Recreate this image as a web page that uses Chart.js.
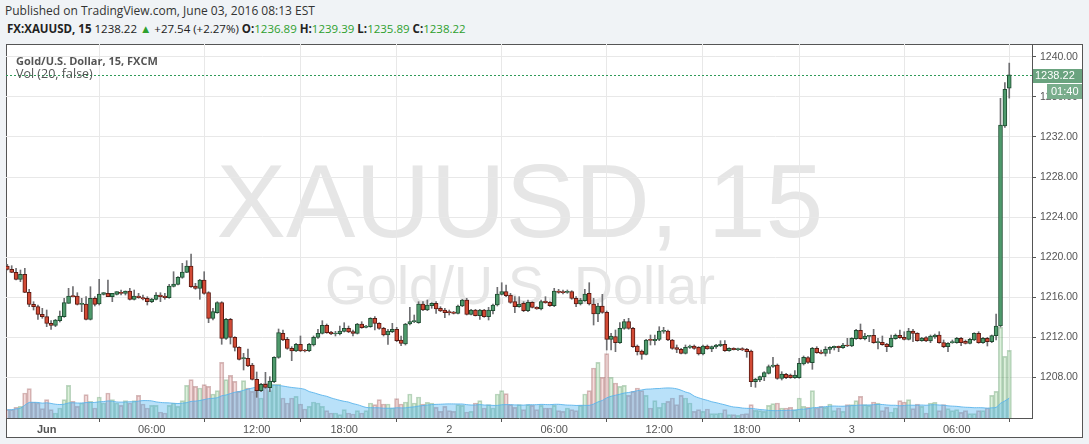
<!DOCTYPE html>
<html>
<head>
<meta charset="utf-8">
<script src="https://cdn.jsdelivr.net/npm/chart.js@4.4.0/dist/chart.umd.min.js"></script>
<style>
  body { margin: 0; width: 1089px; height: 444px; overflow: hidden; background: #f0f3f6; font-family: "Open Sans", "Liberation Sans", sans-serif; }
  #head1 { position: absolute; left: 5px; top: 2px; font-size: 12px; color: #333; white-space: nowrap; }
  #head2 { position: absolute; left: 7px; top: 21px; font-size: 11.5px; color: #222; white-space: nowrap; }
  #head2 b { font-weight: 700; }
  #head2 .g { color: #2ea02e; }
  #frame { position: absolute; left: 6px; top: 44px; width: 1077px; height: 394px; box-sizing: border-box; border: 1px solid #555; background: #fff; overflow: hidden; }
  .wm { position: absolute; left: 0; width: 1026px; text-align: center; color: #e6e6e6; font-family: "Liberation Sans", Arial, sans-serif; white-space: nowrap; }
  #wm1 { top: 104px; font-size: 104px; line-height: 104px; }
  #wm2 { top: 213px; font-size: 54px; line-height: 54px; }
  .leg { position: absolute; left: 16px; font-size: 11px; color: #555; white-space: nowrap; }
  #leg1 { top: 53px; font-weight: 700; }
  #leg2 { top: 65px; font-size: 12.5px; }
  canvas { position: absolute; left: 0; top: 0; }
</style>
</head>
<body>
<div id="head1">Published on TradingView.com, June 03, 2016 08:13 EST</div>
<div id="head2"><b>FX:XAUUSD, 15</b> 1238.22 <span class="g">&#9650;</span> +27.54 (+2.27%) <b>O:</b><span class="g">1236.89</span> <b>H:</b><span class="g">1239.39</span> <b>L:</b><span class="g">1235.89</span> <b>C:</b><span class="g">1238.22</span></div>
<div id="frame">
  <div class="wm" id="wm1">XAUUSD, 15</div>
  <div class="wm" id="wm2">Gold/U.S. Dollar</div>
</div>
<canvas id="chart" width="1089" height="444"></canvas>
<div class="leg" id="leg1">Gold/U.S. Dollar, 15, FXCM</div>
<div class="leg" id="leg2">Vol (20, false)</div>

<script>
// 15 minute bars, May 31 21:45 .. Jun 3
const open = [1219.10,1218.77,1218.47,1217.77,1218.27,1216.47,1215.27,1215.03,1214.27,1214.03,
  1213.37,1213.17,1213.63,1214.03,1215.37,1216.10,1216.10,1215.27,1215.30,1213.77,
  1215.87,1215.30,1216.27,1216.37,1216.03,1216.27,1216.47,1216.37,1216.60,1215.77,
  1216.10,1215.93,1215.87,1215.53,1215.77,1216.20,1216.10,1215.93,1217.07,1217.27,
  1217.97,1218.47,1219.10,1217.10,1216.87,1217.70,1216.43,1213.87,1214.43,1215.43,
  1211.87,1213.77,1211.97,1210.97,1209.83,1209.87,1209.20,1207.77,1206.63,1207.27,
  1206.93,1207.53,1209.97,1212.37,1211.77,1210.87,1210.60,1211.27,1210.63,1210.63,
  1211.20,1211.97,1212.37,1213.17,1212.50,1212.30,1212.33,1212.57,1212.87,1212.53,
  1212.37,1213.30,1212.97,1213.03,1213.87,1213.37,1212.87,1212.20,1212.53,1212.77,
  1211.70,1211.30,1213.30,1213.53,1213.43,1215.30,1214.70,1215.13,1215.37,1214.87,
  1214.70,1214.50,1214.50,1214.37,1215.10,1215.70,1214.27,1214.70,1214.13,1214.70,
  1214.03,1214.63,1215.20,1216.27,1216.53,1216.20,1215.53,1215.03,1215.37,1214.63,
  1215.47,1214.97,1214.80,1215.60,1215.47,1215.13,1216.60,1216.53,1216.47,1216.53,
  1215.87,1215.30,1215.63,1216.37,1215.30,1214.30,1215.10,1214.47,1211.77,1212.03,
  1211.43,1212.87,1213.53,1212.87,1211.10,1210.60,1210.27,1211.70,1211.63,1211.77,
  1212.57,1212.60,1211.70,1210.93,1210.77,1210.37,1210.97,1211.10,1210.97,1210.30,
  1211.10,1210.80,1211.00,1211.13,1211.27,1210.63,1210.87,1210.73,1210.83,1210.77,
  1210.60,1207.53,1207.70,1208.00,1208.37,1209.07,1209.20,1207.87,1208.27,1208.20,
  1207.93,1207.93,1209.30,1209.93,1209.43,1210.87,1210.50,1210.37,1210.77,1210.93,
  1211.07,1210.93,1211.17,1211.10,1211.83,1212.67,1211.83,1212.07,1212.17,1211.43,
  1211.47,1211.30,1211.03,1211.83,1212.17,1211.97,1211.77,1212.60,1212.37,1211.63,
  1211.93,1211.60,1212.00,1212.20,1211.43,1211.03,1211.43,1211.43,1211.87,1211.57,
  1211.37,1211.70,1212.37,1211.43,1211.87,1211.53,1212.13,1213.10,1233.10,1236.89];

const high = [1219.27,1219.13,1218.87,1218.70,1218.87,1216.77,1215.53,1215.20,1214.87,1214.70,
  1213.63,1213.77,1214.60,1215.87,1216.87,1217.03,1216.43,1215.87,1216.03,1217.03,
  1216.03,1217.77,1216.43,1217.70,1216.37,1216.53,1216.70,1216.60,1216.87,1216.70,
  1216.37,1216.20,1216.03,1215.87,1216.43,1216.43,1216.37,1217.27,1218.53,1218.03,
  1219.37,1219.63,1220.30,1217.37,1217.77,1218.53,1216.53,1214.87,1215.53,1215.53,
  1213.87,1213.87,1212.03,1211.03,1210.37,1210.80,1209.37,1208.50,1207.37,1208.47,
  1208.03,1210.03,1212.80,1212.70,1211.97,1211.03,1211.37,1212.10,1210.77,1211.37,
  1212.10,1212.77,1213.63,1213.30,1212.57,1212.57,1213.10,1213.43,1213.10,1212.70,
  1213.37,1213.53,1213.17,1213.93,1214.03,1213.43,1212.97,1212.77,1213.37,1212.97,
  1212.10,1213.37,1214.97,1214.20,1215.53,1215.53,1215.70,1215.43,1215.53,1215.03,
  1214.87,1214.70,1214.57,1215.20,1215.77,1215.87,1214.77,1214.77,1214.77,1214.77,
  1214.97,1215.30,1216.97,1217.43,1217.20,1216.37,1216.03,1216.03,1215.53,1215.70,
  1215.53,1215.03,1215.70,1216.03,1215.53,1216.87,1216.77,1216.70,1216.70,1216.63,
  1216.03,1215.87,1216.77,1217.43,1215.87,1215.37,1216.27,1214.60,1212.37,1212.70,
  1213.43,1213.77,1213.87,1212.97,1211.20,1210.70,1211.77,1212.20,1212.20,1213.03,
  1212.97,1212.70,1211.77,1211.20,1210.87,1211.20,1211.20,1211.20,1211.03,1211.20,
  1211.20,1211.10,1211.27,1211.63,1211.63,1210.93,1210.93,1210.90,1210.93,1210.87,
  1210.70,1207.87,1208.10,1208.53,1209.20,1209.97,1209.30,1208.53,1208.37,1208.30,
  1208.63,1209.87,1210.10,1210.03,1210.97,1211.03,1210.70,1211.03,1211.03,1211.10,
  1211.10,1211.37,1211.87,1211.93,1212.77,1213.30,1212.37,1212.17,1212.77,1211.87,
  1212.10,1211.37,1212.20,1212.30,1212.70,1212.53,1212.87,1212.77,1212.43,1211.97,
  1212.03,1212.20,1212.30,1212.53,1211.70,1211.43,1211.70,1211.97,1211.97,1211.70,
  1211.87,1212.43,1212.53,1211.97,1211.97,1212.20,1214.30,1235.87,1237.43,1239.39];

const low = [1218.70,1218.43,1217.70,1217.53,1216.43,1215.03,1214.70,1213.77,1213.87,1213.03,
  1212.77,1213.03,1213.50,1213.97,1215.37,1216.00,1215.20,1214.53,1213.70,1213.70,
  1215.10,1215.20,1216.20,1216.03,1215.53,1216.20,1216.20,1216.20,1215.70,1215.70,
  1215.87,1215.70,1215.20,1215.43,1215.70,1215.53,1215.77,1215.87,1217.00,1217.20,
  1217.87,1218.43,1216.97,1216.77,1215.77,1216.27,1213.43,1213.70,1214.37,1211.27,
  1211.77,1211.30,1210.60,1209.70,1208.70,1209.03,1207.70,1205.97,1206.53,1206.87,
  1206.53,1207.43,1209.87,1211.63,1210.77,1209.63,1210.53,1210.53,1210.50,1210.53,
  1211.10,1211.87,1212.30,1212.37,1212.23,1212.10,1212.20,1212.50,1212.43,1212.10,
  1212.30,1212.87,1212.90,1212.97,1212.70,1212.77,1212.10,1211.27,1212.43,1211.53,
  1211.13,1211.20,1213.20,1213.43,1213.37,1214.63,1214.63,1214.87,1214.37,1214.53,
  1213.93,1214.20,1214.30,1214.30,1215.03,1214.20,1214.20,1214.10,1213.77,1213.97,
  1213.70,1214.30,1215.10,1216.20,1216.03,1215.37,1214.43,1214.97,1214.53,1214.53,
  1214.90,1214.77,1214.70,1215.37,1215.07,1215.03,1216.37,1216.30,1216.37,1215.77,
  1215.03,1215.20,1215.57,1215.20,1213.20,1213.53,1214.37,1210.70,1210.70,1210.53,
  1211.37,1212.77,1212.77,1210.97,1210.20,1209.77,1210.20,1211.20,1211.20,1211.63,
  1212.37,1211.63,1210.77,1210.43,1210.30,1210.30,1210.87,1210.77,1210.20,1210.20,
  1210.77,1210.53,1210.87,1211.03,1210.57,1210.57,1210.70,1210.63,1210.63,1209.97,
  1207.03,1206.97,1207.53,1207.63,1208.30,1208.97,1207.77,1207.70,1207.83,1207.87,
  1207.87,1207.87,1209.20,1209.37,1208.77,1210.37,1210.30,1210.10,1210.37,1210.70,
  1210.53,1210.87,1211.03,1211.03,1211.77,1211.77,1211.70,1211.53,1211.37,1210.80,
  1211.17,1210.53,1210.97,1211.77,1211.87,1211.70,1211.70,1211.53,1211.57,1211.57,
  1211.53,1211.43,1211.87,1211.37,1210.93,1210.53,1211.37,1211.37,1211.13,1211.30,
  1211.30,1211.63,1211.37,1211.37,1211.10,1211.43,1211.70,1213.00,1232.97,1235.89];

const close = [1218.77,1218.47,1217.77,1218.27,1216.47,1215.27,1215.03,1214.27,1214.03,1213.37,
  1213.17,1213.70,1214.10,1215.43,1216.10,1216.03,1215.27,1215.33,1213.77,1215.87,
  1215.27,1216.30,1216.43,1216.03,1216.37,1216.53,1216.37,1216.60,1215.77,1216.10,
  1215.93,1215.80,1215.53,1215.80,1216.20,1216.03,1215.93,1217.10,1217.30,1217.97,
  1218.50,1219.10,1217.03,1216.87,1217.70,1216.37,1213.87,1214.53,1215.43,1211.87,
  1213.77,1211.97,1210.97,1209.77,1209.90,1209.10,1207.77,1206.63,1207.27,1206.97,
  1207.60,1209.97,1212.43,1211.70,1210.87,1210.60,1211.27,1210.60,1210.60,1211.27,
  1211.97,1212.37,1213.17,1212.43,1212.30,1212.33,1212.60,1212.87,1212.50,1212.37,
  1213.30,1212.93,1213.10,1213.87,1213.37,1212.87,1212.20,1212.60,1212.77,1211.63,
  1211.37,1213.30,1213.53,1213.57,1215.30,1214.70,1215.20,1215.37,1214.80,1214.60,
  1214.43,1214.43,1214.37,1215.10,1215.70,1214.27,1214.70,1214.13,1214.70,1214.03,
  1214.70,1215.20,1216.30,1216.53,1216.13,1215.47,1215.03,1215.30,1214.63,1215.47,
  1214.97,1214.80,1215.53,1215.43,1215.13,1216.60,1216.47,1216.43,1216.53,1215.87,
  1215.30,1215.70,1216.30,1215.30,1214.30,1215.10,1214.47,1211.77,1212.10,1211.43,
  1212.87,1213.53,1212.87,1211.03,1210.53,1210.27,1211.70,1211.67,1211.77,1212.60,
  1212.67,1211.70,1210.87,1210.77,1210.37,1210.97,1211.10,1210.87,1210.30,1211.10,
  1210.80,1211.03,1211.20,1211.27,1210.63,1210.87,1210.73,1210.77,1210.70,1210.53,
  1207.53,1207.77,1208.03,1208.43,1209.03,1209.20,1207.87,1208.30,1207.93,1207.93,
  1208.20,1209.37,1209.97,1209.47,1210.87,1210.43,1210.37,1210.77,1210.97,1211.07,
  1210.93,1211.20,1211.10,1211.87,1212.67,1211.83,1212.10,1212.17,1211.43,1211.47,
  1211.23,1211.03,1211.87,1212.17,1211.93,1211.77,1212.60,1212.37,1211.63,1211.90,
  1211.60,1212.10,1212.20,1211.43,1211.03,1211.37,1211.53,1211.87,1211.43,1211.37,
  1211.77,1212.37,1211.43,1211.87,1211.53,1212.13,1213.10,1233.20,1236.77,1238.22];

const volume = [83,83,107,117,250,293,160,150,93,183,
  83,50,100,183,327,167,117,150,233,167,
  100,210,150,250,183,150,127,173,150,173,
  227,140,100,127,127,60,50,127,150,117,
  173,327,383,317,300,333,317,240,273,557,
  383,427,367,267,373,300,267,283,200,350,
  273,340,340,200,150,200,217,140,90,117,
  160,150,117,73,50,50,33,83,50,40,
  73,50,73,150,133,183,140,140,100,193,
  140,160,240,150,210,140,157,150,107,67,
  117,73,67,133,127,60,67,150,173,100,
  133,100,240,273,243,133,107,133,83,133,
  127,83,127,100,100,127,73,67,100,83,
  73,127,240,273,500,557,407,643,407,350,
  317,327,227,267,300,273,227,100,173,107,
  150,167,200,133,227,200,150,67,83,67,
  90,43,43,50,83,33,33,27,40,43,
  133,77,73,67,127,143,150,100,100,107,
  83,200,117,107,273,100,117,107,140,73,
  100,67,133,133,173,217,133,127,160,150,
  73,107,60,100,173,160,183,93,140,117,
  50,150,157,73,133,93,73,83,57,73,
  43,43,73,73,100,227,267,907,617,677];

const tickIdx = [9, 33, 57, 77, 101, 125, 149, 169, 193, 217];
const tickLabels = ['Jun', '06:00', '12:00', '18:00', '2', '06:00', '12:00', '18:00', '3', '06:00'];
const priceTicks = [1208, 1212, 1216, 1220, 1224, 1228, 1232, 1236, 1240];

const idx = open.map((o, i) => i);
const up = idx.map(i => close[i] >= open[i]);

const wickData = idx.map(i => ({ x: i, y: [low[i], high[i]] }));
const bodyData = idx.map(i => ({ x: i, y: [Math.min(open[i], close[i]), Math.max(open[i], close[i])] }));
const volData = idx.map(i => ({ x: i, y: volume[i] }));
// Vol (20): simple moving average of volume
const volMA = idx.map(i => {
  const w = volume.slice(Math.max(0, i - 19), i + 1);
  return { x: i, y: w.reduce((a, b) => a + b, 0) / w.length };
});

const lastPrice = {
  id: 'lastPrice',
  beforeDatasetsDraw(chart) {
    const { ctx, chartArea: a, scales: { y } } = chart;
    const py = Math.round(y.getPixelForValue(close[close.length - 1])) + 0.5;
    ctx.save();
    ctx.strokeStyle = '#2f9a58';
    ctx.lineWidth = 1;
    ctx.setLineDash([2, 2]);
    ctx.beginPath();
    ctx.moveTo(a.left, py);
    ctx.lineTo(a.right, py);
    ctx.stroke();
    ctx.restore();
  },
  afterDraw(chart) {
    const { ctx, chartArea: a, scales: { y } } = chart;
    const last = close[close.length - 1];
    const py = Math.round(y.getPixelForValue(last));
    ctx.save();
    ctx.fillStyle = '#6aa37f';
    ctx.fillRect(a.right + 1, py - 6, 49, 14);
    ctx.fillStyle = '#79ad8c';
    ctx.fillRect(a.right + 15, py + 9, 35, 15);
    ctx.fillStyle = '#fff';
    ctx.font = '11px "Liberation Sans"';
    ctx.textBaseline = 'middle';
    ctx.fillText(last.toFixed(2), a.right + 3, py + 1);
    ctx.fillText('01:40', a.right + 19, py + 17);
    ctx.restore();
  }
};

const ctx = document.getElementById('chart').getContext('2d');

new Chart(ctx, {
  type: 'bar',
  data: {
    datasets: [
      {
        label: 'body',
        data: bodyData,
        backgroundColor: up.map(u => u ? '#4e9a6c' : '#d24a35'),
        borderColor: up.map(u => u ? '#1f4d32' : '#5b1a13'),
        borderWidth: 1,
        borderSkipped: false,
        barThickness: 4,
        minBarLength: 1,
        grouped: false,
        order: 0
      },
      {
        label: 'wick',
        data: wickData,
        backgroundColor: '#6f6f72',
        barThickness: 1,
        minBarLength: 1,
        grouped: false,
        order: 1
      },
      {
        type: 'line',
        label: 'Vol MA',
        data: volMA,
        yAxisID: 'vol',
        borderColor: 'rgba(90,180,235,0.9)',
        borderWidth: 1,
        backgroundColor: 'rgba(70,175,240,0.38)',
        fill: 'origin',
        pointRadius: 0,
        tension: 0.3,
        order: 2
      },
      {
        label: 'Volume',
        data: volData,
        yAxisID: 'vol',
        backgroundColor: up.map(u => u ? 'rgba(120,195,120,0.25)' : 'rgba(210,120,120,0.25)'),
        borderColor: up.map(u => u ? 'rgba(90,150,100,0.4)' : 'rgba(150,80,80,0.4)'),
        borderWidth: 1,
        borderSkipped: 'bottom',
        barThickness: 4.4,
        grouped: false,
        order: 3
      }
    ]
  },
  options: {
    responsive: false,
    animation: false,
    devicePixelRatio: 1,
    layout: { padding: { left: 6, top: 44, right: 7, bottom: 7 } },
    plugins: { legend: { display: false }, tooltip: { enabled: false } },
    scales: {
      x: {
        type: 'linear',
        min: -0.3,
        max: 234.2,
        offset: false,
        afterBuildTicks: s => { s.ticks = tickIdx.map(v => ({ value: v })); },
        afterFit: s => { s.height = 19; },
        grid: { color: '#e8e8e8', tickLength: 4, tickColor: '#555' },
        border: { color: '#555' },
        ticks: {
          callback: v => tickLabels[tickIdx.indexOf(v)],
          autoSkip: false,
          maxRotation: 0,
          padding: 1,
          color: '#555',
          font: c => ({ family: 'Liberation Sans', size: 11, weight: c.tick && c.tick.label === 'Jun' ? 'bold' : 'normal' })
        }
      },
      y: {
        position: 'right',
        min: 1203.9,
        max: 1241.3,
        afterBuildTicks: s => { s.ticks = priceTicks.map(v => ({ value: v })); },
        afterFit: s => { s.width = 50; },
        grid: { color: '#e8e8e8', tickLength: 4, tickColor: '#555' },
        border: { color: '#555' },
        ticks: {
          callback: v => v.toFixed(2),
          padding: 4,
          color: '#555',
          font: { family: 'Liberation Sans', size: 10.5 }
        }
      },
      vol: {
        display: false,
        min: 0,
        max: 3740
      }
    }
  },
  plugins: [lastPrice]
});
</script>
</body>
</html>
